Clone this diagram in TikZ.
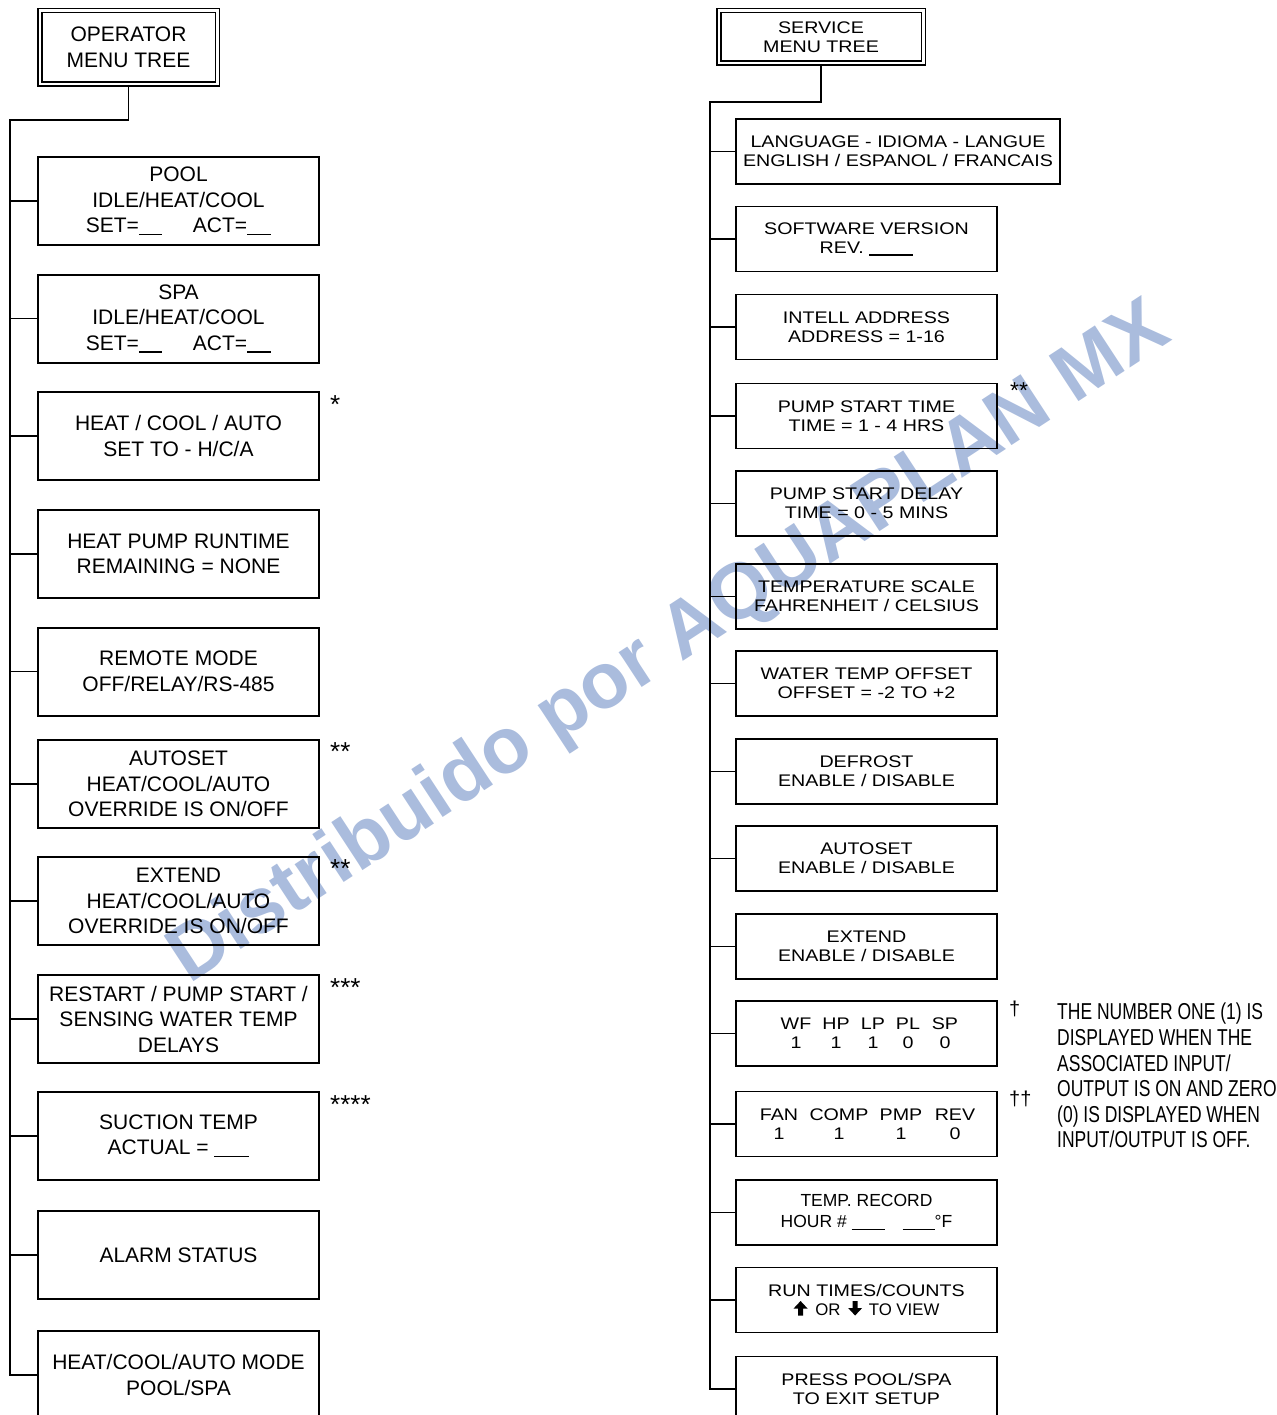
\documentclass[tikz,border=0pt]{standalone}
\usepackage{fontspec}
\setmainfont{Liberation Sans}
\newfontfamily\widefont[FakeStretch=1.17]{Liberation Sans}
\newfontfamily\narrowfont[FakeStretch=0.76]{Liberation Sans}
\usepackage{tikz}
\usetikzlibrary{
    positioning
}

\definecolor{wmblue}{RGB}{170,188,221}

\newcommand{\blank}[1]{\rule[-2.5pt]{#1}{1.2pt}}
\newcommand{\cell}[2]{\makebox[#1][c]{#2}}
\newcommand{\arrowup}{\tikz[x=1pt,y=1pt,baseline=0pt]
    \fill (-2.5,0)--(2.5,0)--(2.5,7)--(7,7)--(0,14.5)--(-7,7)--(-2.5,7)--cycle;}
\newcommand{\arrowdown}{\tikz[x=1pt,y=1pt,baseline=0pt]
    \fill (-2.5,14.5)--(2.5,14.5)--(2.5,7.5)--(7,7.5)--(0,0)--(-7,7.5)--(-2.5,7.5)--cycle;}

\begin{document}
\begin{tikzpicture}[x=1pt,y=-1pt,
    opbox/.style={draw,line width=2pt,minimum width=281pt,minimum height=88pt,
        inner sep=0pt,align=center,font=\fontsize{21}{25.5}\selectfont},
    svbox/.style={draw,line width=1.6pt,minimum width=261pt,minimum height=65pt,
        inner sep=0pt,align=center,font=\widefont\fontsize{16.8}{19}\selectfont},
    headbox/.style={draw,double,line width=1.5pt,double distance=2.5pt,
        inner sep=0pt,align=center},
    opline/.style={line width=1.9pt},
    svline/.style={line width=1.5pt},
    starmark/.style={anchor=north west,inner sep=0pt,font=\fontsize{26}{26}\selectfont},
    note/.style={anchor=north west,inner sep=0pt,align=left,
        font=\narrowfont\fontsize{23}{25.6}\selectfont}]

\useasboundingbox (0,0) rectangle (1276,1415);

% Watermark
\node[rotate=33.2,inner sep=0pt,text=wmblue,font=\bfseries\fontsize{79}{79}\selectfont]
    (wmark) at (670,645) {Distribuido por AQUAPLAN MX};

% Operator menu
\node[headbox,minimum width=177.5pt,minimum height=73.5pt,
      font=\fontsize{21}{26}\selectfont] (ophead) at (128.5,47.5) {OPERATOR\\MENU TREE};

\node[opbox] (lpool) at (178.5,201) {POOL\\IDLE/HEAT/COOL\\SET=\blank{23pt}\hspace{31pt}ACT=\blank{24pt}};
\node[opbox] (lspa) at (178.5,318.5) {SPA\\IDLE/HEAT/COOL\\SET=\blank{23pt}\hspace{31pt}ACT=\blank{24pt}};
\node[opbox] (lhca) at (178.5,436) {HEAT / COOL / AUTO\\SET TO - H/C/A};
\node[opbox] (lhpr) at (178.5,554) {HEAT PUMP RUNTIME\\REMAINING = NONE};
\node[opbox] (lremote) at (178.5,671.5) {REMOTE MODE\\OFF/RELAY/RS-485};
\node[opbox] (lautoset) at (178.5,784) {AUTOSET\\HEAT/COOL/AUTO\\OVERRIDE IS ON/OFF};
\node[opbox] (lextend) at (178.5,901) {EXTEND\\HEAT/COOL/AUTO\\OVERRIDE IS ON/OFF};
\node[opbox] (lrestart) at (178.5,1019) {RESTART / PUMP START /\\SENSING WATER TEMP\\DELAYS};
\node[opbox] (lsuction) at (178.5,1136) {SUCTION TEMP\\ACTUAL = \blank{35pt}};
\node[opbox] (lalarm) at (178.5,1255) {ALARM STATUS};
\node[opbox] (lmode) at (178.5,1375) {HEAT/COOL/AUTO MODE\\POOL/SPA};

\node[starmark] (lstara) at (330,395) {*};
\node[starmark] (lstarb) at (330,742) {**};
\node[starmark] (lstarc) at (330,859) {**};
\node[starmark] (lstard) at (330,978) {***};
\node[starmark] (lstare) at (330,1095) {****};

\coordinate (ltrunk) at (10,120);
\draw[opline] (ophead.south) |- (ltrunk) |- (lmode.west);
\foreach \n in {lpool,lspa,lhca,lhpr,lremote,lautoset,lextend,lrestart,lsuction,lalarm}{
    \draw[opline] (ltrunk |- \n.west) -- (\n.west);
}

% Service menu
\node[headbox,minimum width=204.5pt,minimum height=52.5pt,
      font=\widefont\fontsize{16.8}{19}\selectfont] (svhead) at (821,37) {SERVICE\\MENU TREE};

\node[svbox,minimum width=324pt] (rlang) at (898,151.5) {LANGUAGE - IDIOMA - LANGUE\\ENGLISH / ESPANOL / FRANCAIS};
\node[svbox] (rsoft) at (866.5,239) {SOFTWARE VERSION\\REV. \blank{44pt}};
\node[svbox] (rintell) at (866.5,327) {INTELL ADDRESS\\ADDRESS = 1-16};
\node[svbox] (rpstime) at (866.5,416) {PUMP START TIME\\TIME = 1 - 4 HRS};
\node[svbox] (rpsdelay) at (866.5,503.5) {PUMP START DELAY\\TIME = 0 - 5 MINS};
\node[svbox] (rscale) at (866.5,596.5) {TEMPERATURE SCALE\\FAHRENHEIT / CELSIUS};
\node[svbox] (roffset) at (866.5,683.5) {WATER TEMP OFFSET\\OFFSET = -2 TO +2};
\node[svbox] (rdefrost) at (866.5,771.5) {DEFROST\\ENABLE / DISABLE};
\node[svbox] (rautoset) at (866.5,858.5) {AUTOSET\\ENABLE / DISABLE};
\node[svbox] (rextend) at (866.5,946.5) {EXTEND\\ENABLE / DISABLE};
\node[svbox] (rinputs) at (866.5,1033.5) {%
    \hspace*{7pt}\cell{40pt}{WF}\cell{40pt}{HP}\cell{34pt}{LP}\cell{36pt}{PL}\cell{38pt}{SP}\\
    \hspace*{7pt}\cell{40pt}{1}\cell{40pt}{1}\cell{34pt}{1}\cell{36pt}{0}\cell{38pt}{0}};
\node[svbox] (routputs) at (866.5,1124) {%
    \cell{53pt}{FAN}\cell{67pt}{COMP}\cell{57pt}{PMP}\cell{51pt}{REV}\\
    \cell{53pt}{1}\cell{67pt}{1}\cell{57pt}{1}\cell{51pt}{0}};
\node[svbox,font=\fontsize{17.5}{21}\selectfont] (rrecord) at (866.5,1212.5)
    {TEMP. RECORD\\HOUR \# \blank{33pt}\hspace{18pt}\blank{32pt}°F};
\node[svbox] (rruntime) at (866.5,1300) {RUN TIMES/COUNTS\\
    \rmfamily\arrowup{}\hspace{3pt} OR\hspace{3pt} \arrowdown{}\hspace{2pt} TO VIEW};
\node[svbox] (rexit) at (866.5,1389) {PRESS POOL/SPA\\TO EXIT SETUP};

\node[starmark,font=\fontsize{23}{23}\selectfont] (rstar) at (1010,382) {**};
\node[starmark,font=\fontsize{20}{20}\selectfont] (rdaga) at (1009,1001) {†};
\node[starmark,font=\fontsize{20}{20}\selectfont] (rdagb) at (1009,1091) {††};

\node[note] (ionote) at (1057,1003) {THE NUMBER ONE (1) IS\\DISPLAYED WHEN THE\\ASSOCIATED INPUT/\\OUTPUT IS ON AND ZERO\\(0) IS DISPLAYED WHEN\\INPUT/OUTPUT IS OFF.};

\coordinate (rtrunk) at (710,102);
\draw[svline] (svhead.south) |- (rtrunk) |- (rexit.west);
\foreach \n in {rlang,rsoft,rintell,rpstime,rpsdelay,rscale,roffset,rdefrost,rautoset,rextend,rinputs,routputs,rrecord,rruntime}{
    \draw[svline] (rtrunk |- \n.west) -- (\n.west);
}

\end{tikzpicture}
\end{document}
